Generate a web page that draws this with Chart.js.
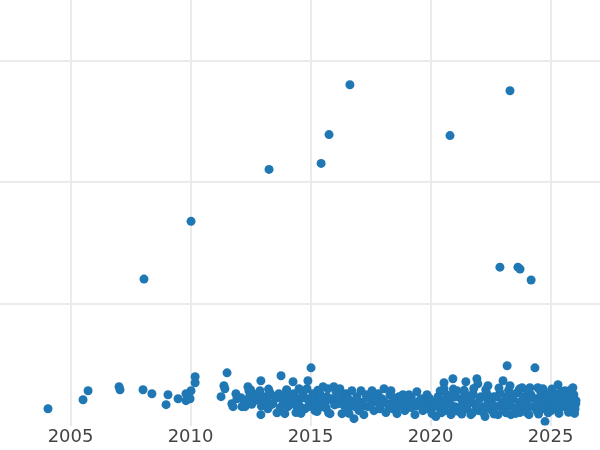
<!DOCTYPE html>
<html lang="en">
<head>
    <meta charset="UTF-8">
    <title>Scatter over years</title>
    <script src="https://cdn.jsdelivr.net/npm/chart.js"></script>
    <style>
        html, body { margin: 0; padding: 0; background: #ffffff; }
        canvas { display: block; }
    </style>
</head>
<body>
    <canvas id="scatterChart" width="600" height="450"></canvas>
    <script>
        // early sparse points (2004 - 2010)
        const earlyYears  = [2004.06, 2005.52, 2005.73, 2007.02, 2007.06, 2008.02, 2008.39, 2008.98, 2009.06, 2009.48, 2009.81, 2009.81, 2009.98, 2010.02, 2010.19, 2010.19];
        const earlyValues = [1.39, 2.13, 2.87, 3.20, 2.95, 2.95, 2.62, 1.72, 2.54, 2.21, 2.62, 2.05, 2.21, 2.87, 4.02, 3.52];

        // high outliers
        const outlierYears  = [2016.64, 2023.31, 2015.77, 2020.81, 2015.44, 2013.27, 2010.02, 2008.06, 2022.89, 2023.64, 2023.73, 2024.19, 2015.02];
        const outlierValues = [28.03, 27.54, 23.93, 23.85, 21.56, 21.07, 16.80, 12.05, 13.03, 13.03, 12.87, 11.97, 4.75];

        // dense band 2011 - 2026
        const bandYears = [
            2011.27, 2011.39, 2011.43, 2011.52, 2011.72, 2011.77, 2011.93, 2011.89,
            2012.14, 2012.27, 2012.39, 2012.43, 2012.47, 2012.60, 2012.68, 2012.81, 2012.93, 2012.89, 2012.93, 2013.02, 2013.10, 2013.18, 2013.22, 2013.31,
            2013.43, 2013.52, 2013.68, 2013.77, 2013.85, 2013.93, 2014.02, 2014.06, 2014.14, 2014.27, 2014.31, 2014.39, 2014.43, 2014.52, 2014.56,
            2014.68, 2014.77, 2014.85, 2014.85, 2014.89, 2014.97, 2015.10, 2015.18, 2015.27, 2015.35, 2015.39, 2015.47, 2015.52, 2015.60, 2015.68, 2015.72, 2015.81, 2015.89, 2015.97,
            2016.06, 2016.14, 2016.22, 2016.31, 2016.39, 2016.47, 2016.56, 2016.64, 2016.72, 2016.81, 2016.85, 2016.93, 2017.02, 2017.10, 2017.14, 2017.22, 2017.31, 2017.39, 2017.47, 2017.56,
            2017.64, 2017.72, 2017.81, 2017.89, 2017.97, 2018.06, 2018.14, 2018.22, 2018.31, 2018.35, 2018.43, 2018.52, 2018.60, 2018.68, 2018.77, 2018.85, 2018.93, 2019.02, 2019.10, 2019.18,
            2019.27, 2019.35, 2019.43, 2019.52, 2019.60, 2019.68, 2019.77, 2019.85, 2019.89, 2019.97, 2020.06, 2020.14, 2020.22, 2020.31, 2020.39, 2020.47, 2020.56, 2020.56, 2020.60, 2020.68,
            2020.77, 2020.85, 2020.93, 2020.93, 2021.02, 2021.10, 2021.18, 2021.27, 2021.35,
            2021.43, 2021.47, 2021.52, 2021.60, 2021.68, 2021.77, 2021.85, 2021.93, 2021.97, 2022.02, 2022.10, 2022.18, 2022.27, 2022.35, 2022.39, 2022.47, 2022.56, 2022.64, 2022.72, 2022.81,
            2022.89, 2022.97, 2023.02, 2023.06, 2023.14, 2023.19, 2023.22, 2023.31, 2023.35, 2023.43, 2023.52, 2023.60, 2023.68, 2023.72, 2023.81, 2023.85, 2023.93, 2024.02, 2024.10, 2024.14,
            2024.18, 2024.27, 2024.35, 2024.35, 2024.43, 2024.47, 2024.52, 2024.60, 2024.68, 2024.68, 2024.77, 2024.81, 2024.89, 2024.93, 2025.02, 2025.06, 2025.14, 2025.22, 2025.31, 2025.31,
            2025.39, 2025.47, 2025.56, 2025.60, 2025.68, 2025.77, 2025.81, 2025.89, 2025.93, 2025.97, 2026.02, 2026.06
        ];
        const bandValues = [
            2.38, 3.28, 3.03, 4.34, 1.80, 1.56, 2.21, 2.62,
            1.56, 1.56, 3.20, 2.87, 2.46, 2.62, 2.05, 2.21, 3.69, 2.87, 0.90, 1.80, 2.38, 2.21, 1.39, 2.70,
            1.80, 2.38, 2.62, 4.10, 2.05, 0.98, 2.87, 1.56, 2.21, 3.61, 2.62, 1.07, 1.56, 3.03, 2.21,
            2.62, 1.39, 3.03, 2.21, 3.69, 1.80, 2.62, 1.23, 1.15, 2.21, 2.62, 1.56, 3.20, 1.80, 2.38, 3.03, 0.98, 2.21, 3.20,
            2.79, 1.80, 3.03, 0.98, 2.21, 2.62, 1.39, 2.05, 2.87, 0.57, 1.56, 2.38, 1.23, 2.87, 1.89, 0.90, 2.54, 1.56, 2.21, 2.87,
            1.23, 1.97, 2.62, 1.39, 2.21, 3.03, 1.07, 1.80, 2.54, 2.87, 1.39, 2.05, 0.98, 2.38, 1.64, 2.54, 1.23, 2.05, 2.54, 1.48,
            1.89, 0.90, 2.79, 1.72, 2.21, 1.23, 1.89, 2.54, 1.39, 2.05, 0.98, 1.72, 0.74, 2.38, 1.39, 2.05, 3.52, 3.03, 1.23, 2.54,
            1.80, 0.90, 3.85, 2.38, 1.56, 2.87, 1.15, 2.21, 1.89,
            2.62, 3.61, 1.39, 2.05, 0.90, 2.62, 1.80, 3.85, 3.44, 1.23, 2.38, 1.56, 0.74, 2.62, 3.28, 1.89, 1.23, 2.38, 1.56, 0.90,
            2.70, 1.89, 3.69, 1.23, 2.38, 4.92, 1.56, 3.28, 0.90, 2.21, 1.39, 2.70, 1.89, 1.07, 3.11, 2.38, 1.56, 2.05, 0.90, 3.11,
            2.54, 1.56, 4.75, 2.21, 1.23, 3.11, 1.89, 2.54, 3.03, 1.39, 0.33, 2.05, 1.80, 2.62, 1.23, 2.21, 1.56, 2.62, 3.36, 1.39,
            2.05, 2.38, 1.56, 2.87, 1.97, 1.23, 2.38, 1.72, 3.11, 2.54, 1.39, 2.05
        ];

        // the solid core of the band, where the markers overlap
        const coreYears = [
            2012.10, 2012.20, 2012.35, 2012.55, 2012.75, 2012.95, 2013.15, 2013.35, 2013.55, 2013.75,
            2013.95, 2014.15, 2014.35, 2014.55, 2014.70, 2014.90, 2015.05, 2015.25, 2015.45, 2015.65,
            2015.85, 2016.00, 2016.20, 2016.40, 2016.55, 2016.75, 2016.95, 2017.15, 2017.35, 2017.50,
            2017.70, 2017.90, 2018.05, 2018.25, 2018.45, 2018.65, 2018.80, 2019.00, 2019.20, 2019.40,
            2019.55, 2019.75, 2019.95, 2020.15, 2020.30, 2020.50, 2020.65, 2020.85, 2021.00, 2021.20,
            2021.35, 2021.55, 2021.70, 2021.90, 2022.05, 2022.25, 2022.40, 2022.60, 2022.75, 2022.95,
            2023.10, 2023.30, 2023.45, 2023.65, 2023.80, 2024.00, 2024.20, 2024.40, 2024.55, 2024.75,
            2024.95, 2025.15, 2025.30, 2025.50, 2025.65, 2025.85, 2025.95, 2026.05,
            2020.40, 2020.95, 2021.40, 2021.80, 2022.30, 2022.85, 2023.25, 2023.70, 2024.05, 2024.55, 2025.05, 2025.45, 2025.85,
            2020.45, 2020.90, 2021.30, 2021.75, 2022.20, 2022.65, 2023.15, 2023.55, 2024.00, 2024.50, 2024.90, 2025.35, 2025.75, 2026.00,
            2012.50, 2013.25, 2013.60, 2014.00, 2014.60, 2015.30, 2015.75, 2016.15, 2016.60
        ];
        const coreValues = [
            2.30, 1.65, 2.10, 1.75, 2.45, 1.60, 2.00, 1.70, 2.25, 1.50,
            2.35, 1.75, 2.15, 1.60, 2.30, 1.55, 2.05, 1.80, 2.40, 1.45,
            2.15, 1.70, 2.40, 1.65, 2.25, 1.80, 2.10, 1.60, 2.35, 1.75,
            2.20, 1.55, 2.05, 1.70, 2.30, 1.55, 2.15, 1.75, 2.30, 1.60,
            2.05, 1.45, 2.25, 1.60, 2.00, 1.55, 2.25, 1.70, 2.35, 1.50,
            2.10, 1.75, 2.40, 1.60, 2.20, 1.45, 2.05, 1.70, 2.35, 1.55,
            2.10, 1.75, 2.45, 1.60, 2.00, 1.45, 2.30, 1.70, 2.15, 1.55,
            2.40, 1.75, 2.10, 1.60, 2.30, 1.50, 2.20, 1.80,
            2.85, 3.00, 2.90, 3.05, 2.95, 3.10, 2.90, 3.00, 2.85, 2.95, 3.00, 2.80, 2.95,
            1.05, 1.10, 0.95, 1.05, 1.10, 0.95, 1.05, 1.00, 1.10, 0.95, 1.05, 1.00, 1.10, 1.00,
            2.95, 3.00, 1.05, 2.95, 1.00, 2.90, 1.05, 2.85, 1.00
        ];

        const yearTicks = [2005, 2010, 2015, 2020, 2025];
        const valueGrid = [10, 20, 30];

        const toPoints = (xs, ys) => xs.map((x, i) => ({ x: x, y: ys[i] }));
        const points = [
            ...toPoints(earlyYears, earlyValues),
            ...toPoints(outlierYears, outlierValues),
            ...toPoints(bandYears, bandValues),
            ...toPoints(coreYears, coreValues)
        ];

        const ctx = document.getElementById('scatterChart').getContext('2d');
        new Chart(ctx, {
            type: 'scatter',
            data: {
                datasets: [{
                    data: points,
                    backgroundColor: '#1f77b4',
                    borderWidth: 0,
                    pointRadius: 4.5,
                    pointHoverRadius: 4.5
                }]
            },
            options: {
                responsive: false,
                animation: false,
                layout: { padding: 0, autoPadding: false },
                plugins: {
                    legend: { display: false },
                    tooltip: { enabled: false }
                },
                scales: {
                    x: {
                        type: 'linear',
                        min: 2002.06,
                        max: 2027.06,
                        afterBuildTicks: scale => {
                            scale.ticks = yearTicks.map(v => ({ value: v }));
                        },
                        grid: { color: '#ebebeb', lineWidth: 2, drawTicks: false },
                        border: { display: false },
                        ticks: {
                            padding: 1.4,
                            color: '#444444',
                            font: { family: 'DejaVu Sans', size: 18 },
                            callback: v => String(v)
                        }
                    },
                    y: {
                        min: 0,
                        max: 35,
                        afterBuildTicks: scale => {
                            scale.ticks = valueGrid.map(v => ({ value: v }));
                        },
                        afterFit: scale => { scale.width = 0; },
                        grid: { color: '#ebebeb', lineWidth: 2, drawTicks: false },
                        border: { display: false },
                        ticks: { display: false }
                    }
                }
            }
        });
    </script>
</body>
</html>
